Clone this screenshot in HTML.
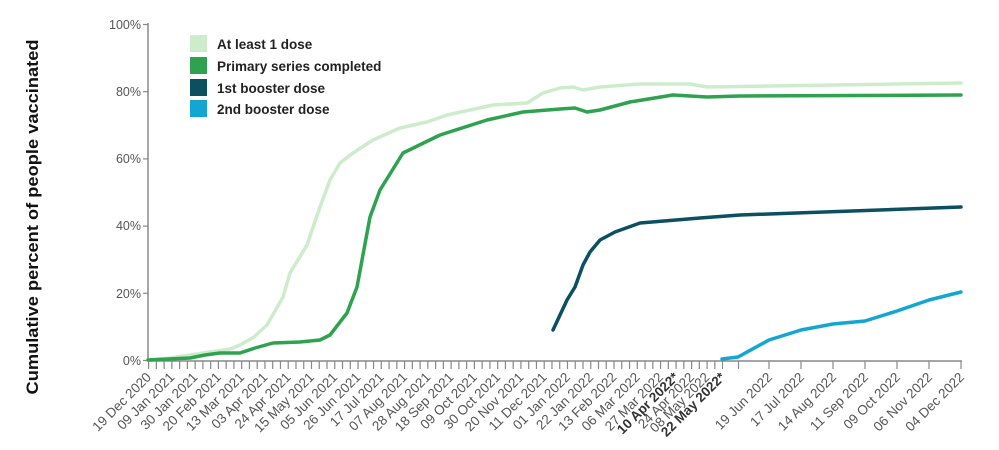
<!DOCTYPE html>
<html><head><meta charset="utf-8"><style>
html,body{margin:0;padding:0;background:#fff;}
svg{display:block;font-family:"Liberation Sans",Arial,sans-serif;}
.t{font-size:12.5px;fill:#555;}
.x{font-size:13.5px;fill:#555;text-anchor:end;}
.b{font-weight:bold;fill:#333;}
.lg{font-size:13.5px;font-weight:bold;fill:#222;}
</style></head><body>
<svg width="999" height="450" viewBox="0 0 999 450" xmlns="http://www.w3.org/2000/svg">
<text transform="translate(38,217) rotate(-90)" text-anchor="middle" font-size="16.5" font-weight="bold" fill="#111" textLength="355" lengthAdjust="spacingAndGlyphs">Cumulative percent of people vaccinated</text>
<line x1="148" y1="23" x2="148" y2="361" stroke="#888" stroke-width="1.5"/>
<g stroke="#888" stroke-width="1.2">
<line x1="143" y1="24.5" x2="148" y2="24.5"/><line x1="143" y1="91.7" x2="148" y2="91.7"/><line x1="143" y1="158.9" x2="148" y2="158.9"/><line x1="143" y1="226.1" x2="148" y2="226.1"/><line x1="143" y1="293.3" x2="148" y2="293.3"/><line x1="143" y1="360.5" x2="148" y2="360.5"/>
</g>
<g class="t" text-anchor="end">
<text x="141" y="29">100%</text><text x="141" y="96">80%</text><text x="141" y="163">60%</text><text x="141" y="230">40%</text><text x="141" y="298">20%</text><text x="141" y="365">0%</text>
</g>
<line x1="148" y1="361" x2="962" y2="361" stroke="#888" stroke-width="1.5"/>
<line x1="148" y1="365" x2="723" y2="365" stroke="#888" stroke-width="8" stroke-dasharray="1.2 6.557"/>
<g stroke="#888" stroke-width="1.2">
<line x1="738.5" y1="361" x2="738.5" y2="369"/><line x1="769" y1="361" x2="769" y2="369"/><line x1="801" y1="361" x2="801" y2="369"/><line x1="833" y1="361" x2="833" y2="369"/><line x1="865" y1="361" x2="865" y2="369"/><line x1="897" y1="361" x2="897" y2="369"/><line x1="929" y1="361" x2="929" y2="369"/><line x1="961" y1="361" x2="961" y2="369"/>
</g>
<g class="x">
<text transform="translate(152,378) rotate(-45)">19 Dec 2020</text>
<text transform="translate(175.3,378) rotate(-45)">09 Jan 2021</text>
<text transform="translate(198.5,378) rotate(-45)">30 Jan 2021</text>
<text transform="translate(221.8,378) rotate(-45)">20 Feb 2021</text>
<text transform="translate(245.1,378) rotate(-45)">13 Mar 2021</text>
<text transform="translate(268.4,378) rotate(-45)">03 Apr 2021</text>
<text transform="translate(291.6,378) rotate(-45)">24 Apr 2021</text>
<text transform="translate(314.9,378) rotate(-45)">15 May 2021</text>
<text transform="translate(338.2,378) rotate(-45)">05 Jun 2021</text>
<text transform="translate(361.4,378) rotate(-45)">26 Jun 2021</text>
<text transform="translate(384.7,378) rotate(-45)">17 Jul 2021</text>
<text transform="translate(408,378) rotate(-45)">07 Aug 2021</text>
<text transform="translate(431.3,378) rotate(-45)">28 Aug 2021</text>
<text transform="translate(454.5,378) rotate(-45)">18 Sep 2021</text>
<text transform="translate(477.8,378) rotate(-45)">09 Oct 2021</text>
<text transform="translate(501.1,378) rotate(-45)">30 Oct 2021</text>
<text transform="translate(524.4,378) rotate(-45)">20 Nov 2021</text>
<text transform="translate(547.6,378) rotate(-45)">11 Dec 2021</text>
<text transform="translate(570.9,378) rotate(-45)">01 Jan 2022</text>
<text transform="translate(594.2,378) rotate(-45)">22 Jan 2022</text>
<text transform="translate(617.4,378) rotate(-45)">13 Feb 2022</text>
<text transform="translate(640.7,378) rotate(-45)">06 Mar 2022</text>
<text transform="translate(664,378) rotate(-45)">27 Mar 2022</text>
<text class="b" transform="translate(679.5,378) rotate(-45)">10 Apr 2022*</text>
<text transform="translate(695,378) rotate(-45)">24 Apr 2022</text>
<text transform="translate(710.5,378) rotate(-45)">08 May 2022</text>
<text class="b" transform="translate(726,378) rotate(-45)">22 May 2022*</text>
<text transform="translate(773,378) rotate(-45)">19 Jun 2022</text>
<text transform="translate(805,378) rotate(-45)">17 Jul 2022</text>
<text transform="translate(837,378) rotate(-45)">14 Aug 2022</text>
<text transform="translate(869,378) rotate(-45)">11 Sep 2022</text>
<text transform="translate(901,378) rotate(-45)">09 Oct 2022</text>
<text transform="translate(933,378) rotate(-45)">06 Nov 2022</text>
<text transform="translate(965,378) rotate(-45)">04 Dec 2022</text>
</g>
<g fill="none" stroke-width="3.5" stroke-linejoin="round" stroke-linecap="round">
<polyline stroke="#cdeccb" points="148,360 170,358 190,355 210,352 230,349 240,345 254,337 267,325 283,297 290,273 307,245 320,207 330,180 340,163 353,153 373,140 400,128 427,122 447,115 493,105 527,103 543,93 560,88 573,87 583,90 600,87 640,84 690,84 707,87 961,83" />
<polyline stroke="#2ea24f" points="148,360 190,358 205,355 220,353 240,353 255,348 273,343 300,342 320,340 330,335 347,313 357,287 370,217 380,190 403,153 440,135 487,120 523,112 560,109 575,108 587,112 600,110 630,102 673,95 707,97 740,96 961,95"/>
<polyline stroke="#0b4f60" points="553,330 560,315 567,300 575,287 583,265 590,252 600,240 615,232 640,223 700,218 740,215 961,207"/>
<polyline stroke="#13a6d2" points="722,359 738,357 769,340 801,330 833,324 865,321 897,311 929,300 961,292"/>
</g>
<rect x="190" y="35" width="17" height="17" fill="#cdeccb"/>
<rect x="190" y="57" width="17" height="17" fill="#2ea24f"/>
<rect x="190" y="79" width="17" height="17" fill="#0b4f60"/>
<rect x="190" y="100" width="17" height="17" fill="#13a6d2"/>
<text class="lg" x="217" y="49">At least 1 dose</text>
<text class="lg" x="217" y="71">Primary series completed</text>
<text class="lg" x="217" y="93">1st booster dose</text>
<text class="lg" x="217" y="114">2nd booster dose</text>
</svg>
</body></html>
